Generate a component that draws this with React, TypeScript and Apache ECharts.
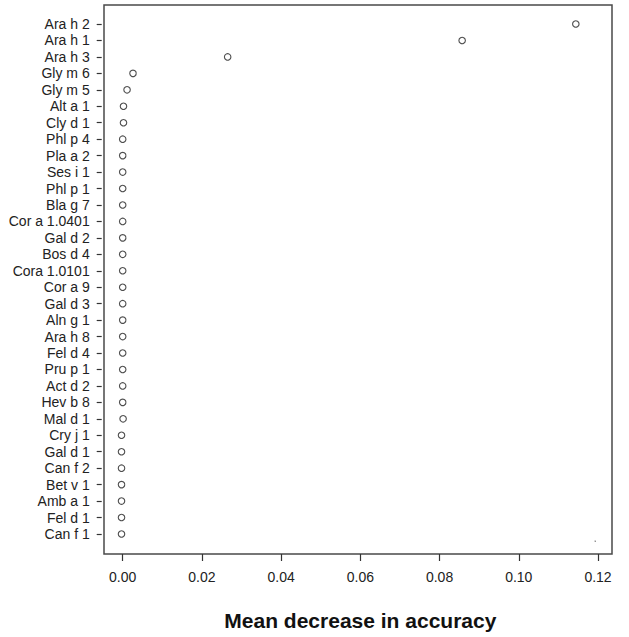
import React, { useEffect, useRef } from "react";
import * as echarts from "echarts";

const categories = [
  "Ara h 2", "Ara h 1", "Ara h 3", "Gly m 6", "Gly m 5", "Alt a 1", "Cly d 1", "Phl p 4",
  "Pla a 2", "Ses i 1", "Phl p 1", "Bla g 7", "Cor a 1.0401", "Gal d 2", "Bos d 4",
  "Cora 1.0101", "Cor a 9", "Gal d 3", "Aln g 1", "Ara h 8", "Fel d 4", "Pru p 1",
  "Act d 2", "Hev b 8", "Mal d 1", "Cry j 1", "Gal d 1", "Can f 2", "Bet v 1",
  "Amb a 1", "Fel d 1", "Can f 1",
];

const meanDecrease = [
  0.1144, 0.0857, 0.0265, 0.0026, 0.0011, 0.0002, 0.0002, 0.0, 0.0, 0.0, 0.0, 0.0,
  0.0, 0.0, 0.0, 0.0, 0.0, 0.0, 0.0, 0.0, 0.0, 0.0, 0.0, 0.0, 0.0001, -0.0003,
  -0.0003, -0.0003, -0.0003, -0.0003, -0.0003, -0.0003,
];

const xTicks = { min: 0, max: 0.12, interval: 0.02 };

export default function App() {
  const ref = useRef<HTMLDivElement>(null);
  useEffect(() => {
    if (!ref.current) return;
    const chart = echarts.init(ref.current, null, { renderer: "svg" });
    const font = "'Liberation Sans', Arial, sans-serif";
    chart.setOption({
      animation: false,
      backgroundColor: "#ffffff",
      grid: [
        { left: 122.7, right: 31, top: 15.8, bottom: 94.8 },
        {
          left: 104, right: 17, top: 5, bottom: 83, show: true,
          borderColor: "#4a4a4a", borderWidth: 1.5, backgroundColor: "transparent",
        },
      ],
      xAxis: [
        {
          type: "value", gridIndex: 0, min: xTicks.min, max: xTicks.max, interval: xTicks.interval,
          position: "bottom", offset: 11.8,
          axisLine: { show: false, onZero: false },
          axisTick: { show: true, length: 7, lineStyle: { color: "#333", width: 1.2 } },
          splitLine: { show: false },
          axisLabel: {
            margin: 16, fontSize: 14, fontFamily: font, color: "#222",
            formatter: (v: number) => v.toFixed(2),
          },
          name: "Mean decrease in accuracy",
          nameLocation: "middle",
          nameGap: 56,
          nameTextStyle: { fontSize: 21, fontWeight: "bold", fontFamily: font, color: "#111" },
        },
        { type: "value", gridIndex: 1, show: false, min: 0, max: 1 },
      ],
      yAxis: [
        {
          type: "category", gridIndex: 0, data: categories, inverse: true,
          position: "left", offset: 21,
          axisLine: { show: false, onZero: false },
          axisTick: { show: true, interval: 0, length: 5, alignWithLabel: true, lineStyle: { color: "#333", width: 1.2 } },
          splitLine: { show: false },
          axisLabel: { interval: 0, margin: 12, fontSize: 14, fontFamily: font, color: "#222" },
        },
        { type: "value", gridIndex: 1, show: false, min: 0, max: 1 },
      ],
      series: [
        {
          type: "scatter", xAxisIndex: 0, yAxisIndex: 0, clip: false,
          data: meanDecrease.map((v, i) => [v, categories[i]]),
          symbol: "circle", symbolSize: 6.5,
          itemStyle: { color: "#ffffff", borderColor: "#222", borderWidth: 1.1 },
          emphasis: { disabled: true },
        },
      ],
      graphic: [
        { type: "circle", left: 594.5, top: 540.5, shape: { r: 0.7 }, style: { fill: "#777" }, silent: true },
      ],
    });
    return () => chart.dispose();
  }, []);
  return (
    <div
      ref={ref}
      style={{ position: "fixed", left: 0, top: 0, width: 629, height: 637 }}
    />
  );
}
